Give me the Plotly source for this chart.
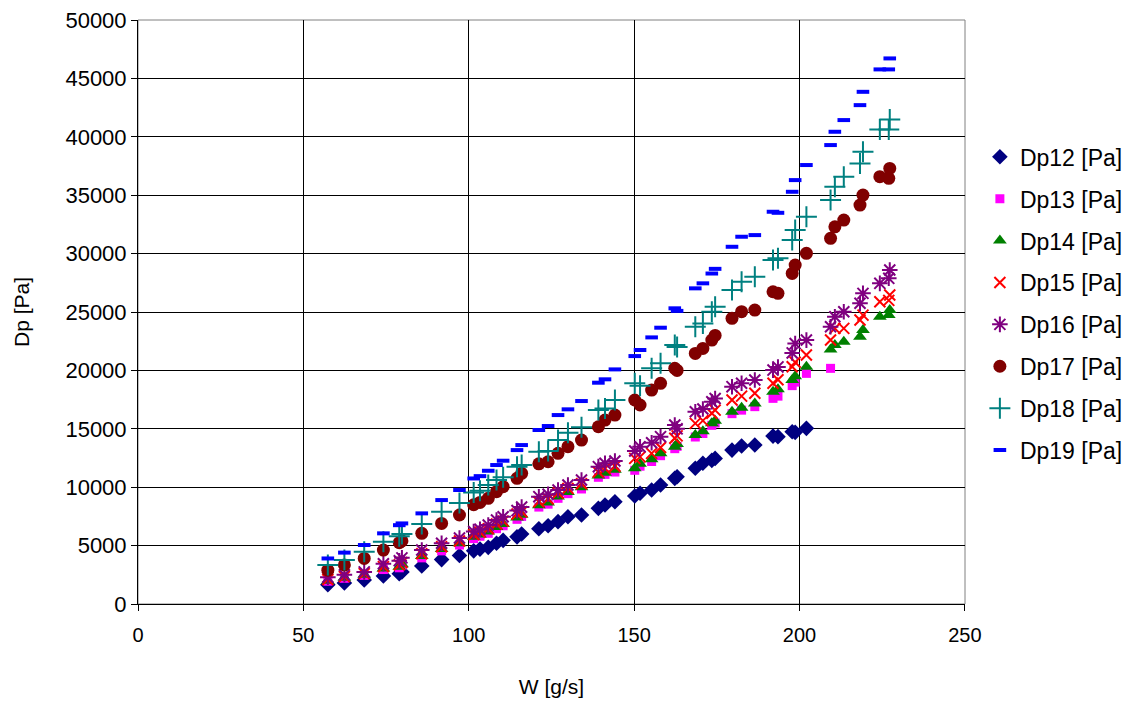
import plotly.graph_objects as go

W = [57.4, 62.4, 68.4, 74.2, 79.0, 79.8, 85.8, 91.8, 97.2, 101.5, 103.4, 105.9, 108.4, 110.4,
     114.6, 116.0, 121.2, 124.0, 127.0, 130.0, 134.1, 139.2, 141.2, 144.2, 150.2, 151.8,
     155.3, 158.0, 162.3, 163.0, 168.5, 170.8, 173.5, 174.5, 179.6, 182.5, 186.5, 192.0,
     193.5, 197.8, 198.7, 202.1, 209.4, 210.7, 213.4, 218.3, 219.2, 224.3, 227.3, 227.0]

Dp12 = [1650, 1800, 2050, 2400, 2600, 2750, 3250, 3800, 4150, 4550, 4700, 4850, 5200, 5450,
        5750, 6000, 6450, 6700, 7050, 7470, 7620, 8190, 8480, 8750, 9250, 9480,
        9760, 10190, 10760, 10900, 11620, 12050, 12300, 12470, 13180, 13530, 13610, 14380,
        14330, 14750, 14700, 15040, None, None, None, None, None, None, None, None]
Dp13 = [1950, 2200, 2450, 2950, 3100, 3300, 3950, 4550, 5050, 5600, 5800, 6050, 6450, 6700,
        7250, 7500, 8300, 8550, 9050, 9450, 9850, 10850, 11100, 11300, 11450, 11800,
        12200, 12700, 13300, 13500, 14300, 14600, 15300, 15500, 16300, 16600, 16900, 17610,
        17800, 18700, 19000, 19750, 20180, None, None, None, None, None, None, None]
Dp14 = [2000, 2250, 2500, 3050, 3200, 3400, 4100, 4700, 5200, 5750, 5950, 6200, 6600, 6850,
        7400, 7650, 8450, 8700, 9200, 9600, 10000, 11000, 11250, 11500, 11620, 12000,
        12390, 12900, 13470, 13700, 14470, 14800, 15470, 15700, 16460, 16800, 17180, 18180,
        18400, 19180, 19500, 20320, 21800, 22170, 22460, 22880, 23460, 24600, 25170, 24740]
Dp15 = [2100, 2350, 2600, 3200, 3350, 3550, 4300, 4900, 5400, 5950, 6150, 6450, 6850, 7100,
        7700, 7900, 8750, 9000, 9500, 9900, 10300, 11300, 11600, 11800, 12470, 12600,
        12900, 13400, 14190, 14400, 15470, 15700, 16330, 16600, 17470, 17800, 18040, 18900,
        19200, 20320, 20700, 21320, 22600, 23600, 23600, 24320, 24740, 25880, 26460, 26000]
Dp16 = [2300, 2500, 2750, 3450, 3700, 3950, 4620, 5200, 5650, 6200, 6400, 6760, 7190, 7470,
        8000, 8300, 9190, 9400, 9760, 10190, 10620, 11760, 12050, 12250, 13100, 13470,
        13810, 14330, 15330, 15000, 16460, 16700, 17320, 17600, 18610, 18900, 19180, 20030,
        20300, 21500, 22300, 22600, 23740, 24600, 25030, 25750, 26600, 27460, 28600, 27890]
Dp17 = [2900, 3350, 3900, 4620, 5250, 5400, 6050, 6900, 7620, 8500, 8700, 9050, 9620, 10050,
        10760, 11190, 12000, 12180, 12900, 13470, 14040, 15180, 15750, 16180, 17470, 17040,
        18320, 18900, 20180, 20000, 21460, 21890, 22600, 23000, 24460, 25030, 25170, 26740,
        26600, 28310, 29020, 30030, 31310, 32300, 32880, 34160, 35020, 36590, 37300, 36450]
Dp18 = [3350, 3770, 4480, 5340, 5800, 6000, 6850, 7900, 8650, 9550, 9700, 10190, 10620, 10850,
        11750, 11900, 13040, 13100, 14040, 14670, 15130, 16610, 16750, 17470, 18900, 18700,
        20180, 20610, 22170, 22000, 23740, 24030, 25030, 25460, 26880, 27600, 28020, 29450,
        29600, 31160, 32020, 33160, 34590, 35730, 36590, 37730, 38730, 40640, 41500, 40640]
Dp19 = [3900, 4400, 5050, 6050, 6750, 6900, 7760, 8900, 9760, 10750, 10950, 11410, 11900, 12270,
        13180, 13610, 14900, 15240, 16180, 16670, 17380, 18950, 19240, 20090, 21230, 21750,
        22830, 23660, 25320, 25100, 27030, 27460, 28300, 28700, 30590, 31450, 31590, 33590,
        33500, 35300, 36300, 37590, 39300, 40440, 41440, 42720, 43860, 45780, 46720, 45780]

series_names = ["Dp12 [Pa]", "Dp13 [Pa]", "Dp14 [Pa]", "Dp15 [Pa]",
                "Dp16 [Pa]", "Dp17 [Pa]", "Dp18 [Pa]", "Dp19 [Pa]"]
series_vals = [Dp12, Dp13, Dp14, Dp15, Dp16, Dp17, Dp18, Dp19]

x_ticks = [0, 50, 100, 150, 200, 250]
y_ticks = [0, 5000, 10000, 15000, 20000, 25000, 30000, 35000, 40000, 45000, 50000]

styles = [
    dict(symbol="diamond", size=12, color="#000080"),
    dict(symbol="square", size=9, color="#FF00FF"),
    dict(symbol="triangle-up", size=12, color="#008000"),
    dict(symbol="x-thin", size=11, color="#FF0000", line=dict(color="#FF0000", width=2)),
    dict(symbol="asterisk", size=13, color="#800080", line=dict(color="#800080", width=2)),
    dict(symbol="circle", size=13, color="#800000"),
    dict(symbol="cross-thin", size=15, color="#008080", line=dict(color="#008080", width=2)),
    dict(symbol="line-ew", size=9, color="#0000FF", line=dict(color="#0000FF", width=4)),
]

fig = go.Figure()
for name, vals, st in zip(series_names, series_vals, styles):
    xs = [w for w, v in zip(W, vals) if v is not None]
    ys = [v for v in vals if v is not None]
    fig.add_trace(go.Scatter(x=xs, y=ys, mode="markers", name=name, marker=st,
                             legendgroup=name))

font = "Arial, Liberation Sans, sans-serif"
fig.update_layout(
    width=1136, height=704,
    margin=dict(l=130, r=179, t=12, b=108),
    paper_bgcolor="white", plot_bgcolor="white",
    font=dict(family=font, size=21, color="black"),
    showlegend=True,
    legend=dict(x=1.018, xanchor="left", y=0.514, yanchor="middle",
                font=dict(size=23, family=font), tracegroupgap=9,
                bgcolor="rgba(0,0,0,0)"),
)
fig.update_xaxes(range=[0, 250.05], tickvals=x_ticks, ticktext=[str(v) for v in x_ticks],
                 automargin=False, ticklabeloverflow="allow",
                 showgrid=True, gridcolor="black", gridwidth=1,
                 showline=True, linecolor="black", linewidth=1,
                 ticks="outside", ticklen=6, tickcolor="black",
                 ticklabelstandoff=7,
                 zeroline=False, tickfont=dict(size=20),
                 title=dict(text="W [g/s]", font=dict(size=21), standoff=34))
fig.update_yaxes(range=[0, 50010], tickvals=y_ticks, ticktext=[str(v) for v in y_ticks],
                 automargin=False, ticklabeloverflow="allow",
                 showgrid=True, gridcolor="black", gridwidth=1,
                 showline=True, linecolor="black", linewidth=1,
                 ticks="outside", ticklen=6, tickcolor="black",
                 zeroline=False, tickfont=dict(size=22),
                 title=dict(text="Dp [Pa]", font=dict(size=21), standoff=30))
fig.add_shape(type="rect", xref="paper", yref="paper", x0=0, y0=0, x1=1, y1=1,
              line=dict(color="#808080", width=1), layer="below")

fig.write_html("out.html")
